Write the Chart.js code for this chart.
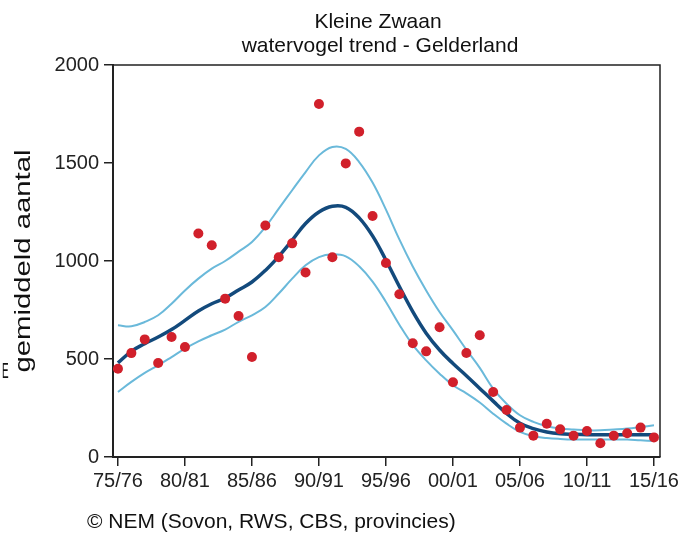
<!DOCTYPE html>
<html>
<head>
<meta charset="utf-8">
<script src="https://cdn.jsdelivr.net/npm/chart.js@4/dist/chart.umd.min.js"></script>
<style>
html,body{margin:0;padding:0;background:#fff;}
#wrap{width:694px;height:534px;position:relative;}
</style>
</head>
<body>
<div id="wrap"><canvas id="c" width="694" height="534"></canvas></div>
<script>
const titleLines = ['Kleine Zwaan', 'watervogel trend - Gelderland'];
const yAxisTitle = 'gemiddeld aantal';
const footerText = '\u00A9 NEM (Sovon, RWS, CBS, provincies)';
const seasons = ['75/76','76/77','77/78','78/79','79/80','80/81','81/82','82/83','83/84','84/85',
  '85/86','86/87','87/88','88/89','89/90','90/91','91/92','92/93','93/94','94/95',
  '95/96','96/97','97/98','98/99','99/00','00/01','01/02','02/03','03/04','04/05',
  '05/06','06/07','07/08','08/09','09/10','10/11','11/12','12/13','13/14','14/15','15/16'];
const xTickValues = [0,5,10,15,20,25,30,35,40];
const yTickStep = 500;
const observed = [450,530,600,480,612,561,1140,1080,808,719,
  510,1181,1019,1090,941,1801,1019,1498,1660,1230,
  990,830,580,539,662,381,531,621,332,240,
  150,109,170,141,109,133,70,109,121,150,100];
const trend = [480,539,578,612,650,697,745,782,811,852,
  893,952,1024,1106,1191,1250,1279,1274,1220,1128,
  1004,870,742,632,546,477,415,350,285,222,
  172,145,128,119,116,114,114,114,114,114,114];
const upper = [672,667,689,723,782,850,910,961,1000,1048,
  1097,1173,1267,1361,1454,1539,1582,1572,1505,1400,
  1262,1110,972,850,740,646,548,455,349,272,
  213,179,157,145,140,136,136,140,145,153,162];
const lower = [332,383,429,468,510,553,590,621,650,690,
  723,765,834,910,978,1020,1034,1024,973,895,
  791,675,572,493,425,366,325,278,221,170,
  128,106,97,92,89,89,89,89,89,85,82];

const toXY = arr => arr.map((v,i)=>({x:i,y:v}));
const FONT = '"Liberation Sans", Arial, sans-serif';

const decor = {
  id:'decor',
  afterDraw(chart){
    const ctx = chart.ctx, a = chart.chartArea;
    ctx.save();
    ctx.strokeStyle = '#222';
    ctx.lineWidth = 1.5;
    ctx.beginPath();
    ctx.moveTo(a.left, a.top); ctx.lineTo(a.right, a.top); ctx.lineTo(a.right, a.bottom);
    ctx.stroke();
    ctx.fillStyle = '#111';
    ctx.textAlign = 'center';
    ctx.textBaseline = 'middle';
    ctx.font = '21px ' + FONT;
    ctx.fillText(titleLines[0], 378, 22);
    ctx.fillText(titleLines[1], 380, 46);
    ctx.textAlign = 'left';
    ctx.fillText(footerText, 87, 522);
    ctx.save();
    ctx.translate(2, 372);
    ctx.scale(0.45, 1);
    ctx.font = '22px ' + FONT;
    ctx.fillText('E', 0, 0);
    ctx.restore();
    // y axis title
    ctx.save();
    ctx.translate(24, 261);
    ctx.rotate(-Math.PI/2);
    ctx.font = '22px ' + FONT;
    const w = ctx.measureText(yAxisTitle).width;
    ctx.scale(223 / w, 1);
    ctx.textAlign = 'center';
    ctx.fillText(yAxisTitle, 0, 0);
    ctx.restore();
    ctx.restore();
  }
};

new Chart(document.getElementById('c'), {
  type: 'line',
  data: {
    datasets: [
      { label:'waarnemingen', data: toXY(observed), showLine:false, pointRadius:5, pointHoverRadius:5,
        pointBackgroundColor:'#d1202b', pointBorderWidth:0, backgroundColor:'#d1202b' },
      { label:'trend', data: toXY(trend), borderColor:'#134a7c', borderWidth:3.5, pointRadius:0,
        tension:0.4, fill:false },
      { label:'boven', data: toXY(upper), borderColor:'#6ab9da', borderWidth:2, pointRadius:0,
        tension:0.4, fill:false },
      { label:'onder', data: toXY(lower), borderColor:'#6ab9da', borderWidth:2, pointRadius:0,
        tension:0.4, fill:false }
    ]
  },
  options: {
    responsive:false,
    animation:false,
    events:[],
    layout:{ padding:{ left:0, right:34, top:65, bottom:0 } },
    plugins:{ legend:{display:false}, title:{display:false}, tooltip:{enabled:false} },
    scales:{
      x:{
        type:'linear', min:-0.37, max:40.45,
        afterBuildTicks(s){ s.ticks = xTickValues.map(v=>({value:v})); },
        afterFit(s){ s.height = 77; },
        ticks:{ callback:(v)=>seasons[v] ?? '', font:{family:FONT, size:20}, color:'#222', padding:3, maxRotation:0, autoSkip:false },
        grid:{ display:true, drawOnChartArea:false, drawTicks:true, tickLength:9, color:'#222', lineWidth:1.5 },
        border:{ display:true, color:'#222', width:2 }
      },
      y:{
        min:0, max:2000,
        afterFit(s){ s.width = 113; },
        ticks:{ stepSize:yTickStep, callback:(v)=>String(v), font:{family:FONT, size:20}, color:'#222', padding:5 },
        grid:{ display:true, drawOnChartArea:false, drawTicks:true, tickLength:9, color:'#222', lineWidth:1.5 },
        border:{ display:true, color:'#222', width:2 }
      }
    }
  },
  plugins:[decor]
});
</script>
</body>
</html>
